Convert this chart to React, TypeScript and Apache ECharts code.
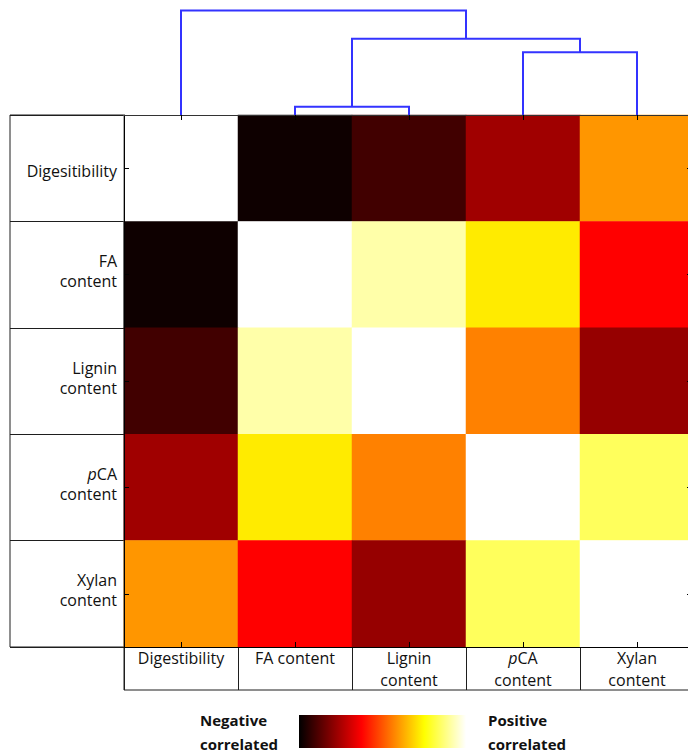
import React, { useEffect, useRef } from "react";
import * as echarts from "echarts";

// Variables, in the order of the heatmap rows and columns
const variables = ["Digestibility", "FA content", "Lignin content", "pCA content", "Xylan content"];
const rowLabels = ["{d|Digesitibility}", "FA\ncontent", "Lignin\ncontent", "{i|p}CA\ncontent", "Xylan\ncontent"];
const colLabels = ["Digestibility", "FA content", "Lignin\ncontent", "{i|p}CA\ncontent", "Xylan\ncontent"];

// Pearson correlation coefficients, one row per variable
const corrDigestibility = [1, -0.96, -0.81, -0.53, 0.19];
const corrFA = [-0.96, 1, 0.83, 0.44, -0.25];
const corrLignin = [-0.81, 0.83, 1, 0.13, -0.56];
const corrPCA = [-0.53, 0.44, 0.13, 1, 0.68];
const corrXylan = [0.19, -0.25, -0.56, 0.68, 1];
const corrRows = [corrDigestibility, corrFA, corrLignin, corrPCA, corrXylan];

// Hierarchical clustering linkage: [child A, child B, height]
// children 0..4 are leaves; 5+ refer to earlier merges (5 = first merge, ...)
const linkage: [number, number, number][] = [
  [1, 2, 0.08],
  [3, 4, 0.6],
  [5, 6, 0.73],
  [0, 7, 1.0],
];

// MATLAB "hot" colormap sampled every 1/8
const hotStops = [
  "#000000", "#550000", "#aa0000", "#ff0000",
  "#ff5500", "#ffaa00", "#ffff00", "#ffff80", "#ffffff",
];

// Colour bar legend texts
const legendLow = "Negative\ncorrelated";
const legendHigh = "Positive\ncorrelated";

const FONT = "'Open Sans', sans-serif";
const LINE = "#1e1e1e";
const TEXT = "#111111";

function buildDendrogram() {
  const n = variables.length;
  const pos: { x: number; h: number }[] = [];
  for (let i = 0; i < n; i++) pos.push({ x: i, h: 0 });
  const segs: { coords: number[][] }[] = [];
  linkage.forEach(([a, b, h]) => {
    const A = pos[a];
    const B = pos[b];
    segs.push({ coords: [[A.x, A.h], [A.x, h], [B.x, h], [B.x, B.h]] });
    pos.push({ x: (A.x + B.x) / 2, h });
  });
  return segs;
}

export default function App() {
  const ref = useRef<HTMLDivElement>(null);

  useEffect(() => {
    if (!ref.current) return;
    const chart = echarts.init(ref.current, undefined, { renderer: "svg" });

    const heatData: number[][] = [];
    corrRows.forEach((row, r) => row.forEach((v, c) => heatData.push([c, r, v])));

    const tickStyle = { color: "#000", width: 1 };

    // colour bar geometry
    const barX = 299, barY = 715, barW = 167, barH = 33;
    const gradientStops = hotStops.map((c, i) => ({ offset: i / (hotStops.length - 1), color: c }));

    const option: any = {
      animation: false,
      backgroundColor: "#ffffff",
      grid: [
        { left: 124, top: 115, width: 570, height: 532 },
        { left: 124, top: 0, width: 570, height: 115 },
        { left: 10, top: 115, width: 114, height: 532, show: true, borderColor: LINE, borderWidth: 1 },
        { left: 124, top: 647, width: 570, height: 43, show: true, borderColor: LINE, borderWidth: 1 },
      ],
      xAxis: [
        {
          gridIndex: 0, type: "category", data: variables, position: "bottom", z: 5,
          axisLine: { show: true, lineStyle: { color: "#000" } },
          axisTick: { show: true, inside: true, alignWithLabel: true, length: 5, lineStyle: tickStyle, interval: 0 },
          axisLabel: { show: false, interval: 0 },
          splitLine: { show: false },
        },
        {
          gridIndex: 0, type: "category", data: variables, position: "top", z: 5,
          axisLine: { show: true, lineStyle: { color: "#333" } },
          axisTick: { show: true, inside: true, alignWithLabel: true, length: 5, lineStyle: tickStyle, interval: 0 },
          axisLabel: { show: false, interval: 0 },
          splitLine: { show: false },
        },
        { gridIndex: 1, type: "value", min: -0.5, max: 4.5, show: false },
        { gridIndex: 2, type: "value", min: 0, max: 1, show: false },
        {
          gridIndex: 3, type: "category", data: colLabels, position: "top",
          axisLine: { show: false },
          axisTick: { show: false },
          axisLabel: {
            show: true, inside: true, interval: 0, margin: 0, verticalAlign: "top", align: "center",
            fontFamily: FONT, fontSize: 16, lineHeight: 22, color: TEXT,
            rich: { i: { fontStyle: "italic", fontFamily: FONT, fontSize: 16, lineHeight: 22, color: TEXT } },
          },
          splitLine: { show: true, interval: 0, lineStyle: { color: LINE, width: 1 } },
        },
      ],
      yAxis: [
        {
          gridIndex: 0, type: "category", data: variables, inverse: true, position: "left", z: 5,
          axisLine: { show: true, lineStyle: { color: "#000" } },
          axisTick: { show: true, inside: true, alignWithLabel: true, length: 5, lineStyle: tickStyle, interval: 0 },
          axisLabel: { show: false, interval: 0 },
          splitLine: { show: false },
        },
        {
          gridIndex: 0, type: "category", data: variables, inverse: true, position: "right", z: 5,
          axisLine: { show: true, lineStyle: { color: "#000" } },
          axisTick: { show: true, inside: true, alignWithLabel: true, length: 7, lineStyle: tickStyle, interval: 0 },
          axisLabel: { show: false, interval: 0 },
          splitLine: { show: false },
        },
        { gridIndex: 1, type: "value", min: 0, max: 1.1, show: false },
        {
          gridIndex: 2, type: "category", data: rowLabels, inverse: true, position: "right",
          axisLine: { show: false },
          axisTick: { show: false },
          axisLabel: {
            show: true, inside: true, interval: 0, margin: 7, align: "right",
            padding: [0, 0, 7, 0],
            fontFamily: FONT, fontSize: 16, lineHeight: 20, color: TEXT,
            rich: {
              i: { fontStyle: "italic", fontFamily: FONT, fontSize: 16, lineHeight: 20, color: TEXT },
              d: { fontFamily: FONT, fontSize: 16, lineHeight: 20, color: TEXT, padding: [12, 0, 0, 0] },
            },
          },
          splitLine: { show: true, interval: 0, lineStyle: { color: LINE, width: 1 } },
        },
        { gridIndex: 3, type: "value", min: 0, max: 1, show: false },
      ],
      visualMap: {
        type: "continuous",
        show: false,
        min: -1,
        max: 1,
        dimension: 2,
        seriesIndex: 0,
        inRange: { color: hotStops },
      },
      graphic: [
        {
          type: "rect",
          shape: { x: barX, y: barY, width: barW, height: barH },
          style: {
            fill: { type: "linear", x: 0, y: 0, x2: 1, y2: 0, colorStops: gradientStops },
          },
          silent: true,
        },
        {
          type: "text",
          x: 200,
          y: 708,
          style: {
            text: legendLow, font: `bold 15px ${FONT}`, fill: TEXT, lineHeight: 24,
            verticalAlign: "top", align: "left",
          },
        },
        {
          type: "text",
          x: 488,
          y: 708,
          style: {
            text: legendHigh, font: `bold 15px ${FONT}`, fill: TEXT, lineHeight: 24,
            verticalAlign: "top", align: "left",
          },
        },
      ],
      series: [
        {
          type: "heatmap",
          xAxisIndex: 0,
          yAxisIndex: 0,
          data: heatData,
          itemStyle: { borderWidth: 0 },
          emphasis: { disabled: true },
          z: 2,
        },
        {
          type: "lines",
          coordinateSystem: "cartesian2d",
          xAxisIndex: 2,
          yAxisIndex: 2,
          polyline: true,
          silent: true,
          lineStyle: { color: "#3333ff", width: 2, opacity: 1 },
          data: buildDendrogram(),
        },
      ],
    };

    chart.setOption(option);
    return () => chart.dispose();
  }, []);

  // the drawing area is a little wider than the window so the last column runs past the edge
  return (
    <div
      ref={ref}
      style={{ position: "fixed", left: 0, top: 0, width: 700, height: 756, background: "#fff" }}
    />
  );
}
